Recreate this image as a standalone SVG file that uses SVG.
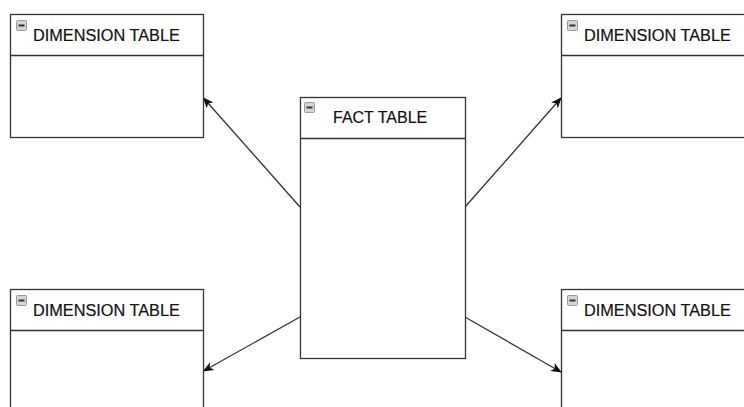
<svg xmlns="http://www.w3.org/2000/svg" width="744" height="407" viewBox="0 0 744 407">
<style>
.box{fill:#fff;stroke:#333;stroke-width:1.3}
.sep{stroke:#333;stroke-width:1.3}
.lbl{font-family:"Liberation Sans",Arial,sans-serif;font-size:16.3px;fill:#111;stroke:#111;stroke-width:0.2}
.edge{stroke:#333;stroke-width:1.3;fill:none;marker-end:url(#arr)}
</style>
<defs>
<marker id="arr" viewBox="0 0 11 10" refX="10" refY="5" markerWidth="11" markerHeight="10" markerUnits="userSpaceOnUse" orient="auto">
<path d="M0,0.5 L11,5 L0,9.5 L3,5 Z" fill="#111"/>
</marker>
<g id="icon">
<rect x="0.5" y="0.5" width="10" height="10" rx="1" fill="#d4d4d4" stroke="#9a9a9a" stroke-width="1"/>
<rect x="2.5" y="4.5" width="6" height="2" fill="#333"/>
</g>
</defs>
<rect width="744" height="407" fill="#fff"/>
<g id="connectors">
<line class="edge" x1="300" y1="207" x2="203.5" y2="98"/>
<line class="edge" x1="465" y1="207" x2="561" y2="98"/>
<line class="edge" x1="300" y1="317" x2="203.5" y2="371"/>
<line class="edge" x1="465" y1="317" x2="561" y2="372"/>
</g>
<g id="dim-top-left">
<rect class="box" x="10.5" y="14.5" width="193" height="123"/>
<line class="sep" x1="10.5" y1="55.5" x2="203.5" y2="55.5"/>
<use href="#icon" x="16" y="20"/>
<text class="lbl" x="33" y="41">DIMENSION TABLE</text>
</g>
<g id="dim-top-right">
<rect class="box" x="561.5" y="14.5" width="193" height="123"/>
<line class="sep" x1="561.5" y1="55.5" x2="754" y2="55.5"/>
<use href="#icon" x="567" y="20"/>
<text class="lbl" x="584" y="41">DIMENSION TABLE</text>
</g>
<g id="fact">
<rect class="box" x="300.5" y="97.5" width="165" height="261"/>
<line class="sep" x1="300.5" y1="138.5" x2="465.5" y2="138.5"/>
<use href="#icon" x="304" y="102"/>
<text class="lbl" x="333" y="123" style="font-size:16px">FACT TABLE</text>
</g>
<g id="dim-bottom-left">
<rect class="box" x="10.5" y="289.5" width="193" height="123"/>
<line class="sep" x1="10.5" y1="330.5" x2="203.5" y2="330.5"/>
<use href="#icon" x="16" y="295"/>
<text class="lbl" x="33" y="316">DIMENSION TABLE</text>
</g>
<g id="dim-bottom-right">
<rect class="box" x="561.5" y="289.5" width="193" height="123"/>
<line class="sep" x1="561.5" y1="330.5" x2="754" y2="330.5"/>
<use href="#icon" x="567" y="295"/>
<text class="lbl" x="584" y="316">DIMENSION TABLE</text>
</g>
</svg>
